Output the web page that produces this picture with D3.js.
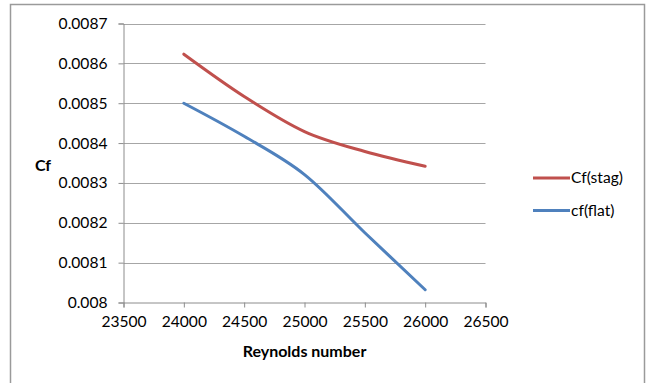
<!DOCTYPE html>
<html>
<head>
<meta charset="utf-8">
<script src="https://cdn.jsdelivr.net/npm/d3@7"></script>
<style>
  html, body { margin: 0; padding: 0; background: #fff; }
  svg { display: block; font-family: Lato, "Open Sans", sans-serif; }
</style>
</head>
<body>
<svg id="chart" width="650" height="383"></svg>
<script>
// Skin friction coefficient against Reynolds number
const reynolds = [24000, 24500, 25000, 25500, 26000];
const cfStag = [0.008623, 0.008517, 0.008429, 0.008379, 0.008342];
const cfFlat = [0.0085, 0.008417, 0.008321, 0.008175, 0.008032];
const seriesNames = ["Cf(stag)", "cf(flat)"];
const seriesColors = ["#C0504D", "#4F81BD"];
const xTicks = [23500, 24000, 24500, 25000, 25500, 26000, 26500];
const yTicks = [0.008, 0.0081, 0.0082, 0.0083, 0.0084, 0.0085, 0.0086, 0.0087];

const labelSize = "15.6px";
const titleSize = "16px";

const svg = d3.select("#chart");

// chart frame
svg.append("rect")
  .attr("x", 10.5).attr("y", 4.5)
  .attr("width", 634).attr("height", 400)
  .attr("fill", "#fff").attr("stroke", "#9a9a9a").attr("stroke-width", 1.5);

const plot = { left: 123.5, right: 485.5, top: 23.5, bottom: 302.5 };

const x = d3.scaleLinear().domain([23500, 26500]).range([plot.left, plot.right]);
const y = d3.scaleLinear().domain([0.008, 0.0087]).range([plot.bottom, plot.top]);

// horizontal gridlines
svg.append("g")
  .selectAll("line")
  .data(yTicks.filter(d => d > 0.008))
  .join("line")
  .attr("x1", plot.left).attr("x2", plot.right)
  .attr("y1", d => Math.round(y(d)) + 0.5).attr("y2", d => Math.round(y(d)) + 0.5)
  .attr("stroke", "#a6a6a6").attr("stroke-width", 1);

// y axis
const yAxis = svg.append("g")
  .attr("transform", `translate(${plot.left},0)`)
  .call(d3.axisLeft(y).tickValues(yTicks).tickFormat(d => +d.toFixed(4) + "").tickSize(5).tickPadding(11));

// x axis
const xAxis = svg.append("g")
  .attr("transform", `translate(0,${plot.bottom})`)
  .call(d3.axisBottom(x).tickValues(xTicks).tickFormat(d => d).tickSize(5).tickPadding(8));

[yAxis, xAxis].forEach(g => {
  g.select(".domain").attr("stroke", "#8c8c8c");
  g.selectAll(".tick line").attr("stroke", "#8c8c8c");
  g.selectAll(".tick text")
    .attr("fill", "#000")
    .style("font-family", "Lato, sans-serif")
    .style("font-size", labelSize);
});

// data lines
const line = d3.line()
  .x(d => x(d[0]))
  .y(d => y(d[1]))
  .curve(d3.curveCardinal.tension(0));

[cfStag, cfFlat].forEach((vals, i) => {
  svg.append("path")
    .datum(reynolds.map((r, j) => [r, vals[j]]))
    .attr("fill", "none")
    .attr("stroke", seriesColors[i])
    .attr("stroke-width", 3)
    .attr("stroke-linecap", "round")
    .attr("d", line);
});

// axis titles
svg.append("text")
  .attr("x", (plot.left + plot.right) / 2).attr("y", 357)
  .attr("text-anchor", "middle")
  .style("font-weight", "bold").style("font-size", titleSize)
  .text("Reynolds number");

svg.append("text")
  .attr("x", 43).attr("y", 171)
  .attr("text-anchor", "middle")
  .style("font-weight", "bold").style("font-size", titleSize)
  .text("Cf");

// legend
const legend = svg.append("g");
seriesNames.forEach((name, i) => {
  const ly = 178 + i * 32.5;
  legend.append("line")
    .attr("x1", 533).attr("x2", 570)
    .attr("y1", ly).attr("y2", ly)
    .attr("stroke", seriesColors[i]).attr("stroke-width", 3);
  legend.append("text")
    .attr("x", 571).attr("y", ly)
    .attr("dy", "0.35em")
    .style("font-size", labelSize)
    .text(name);
});
</script>
</body>
</html>
